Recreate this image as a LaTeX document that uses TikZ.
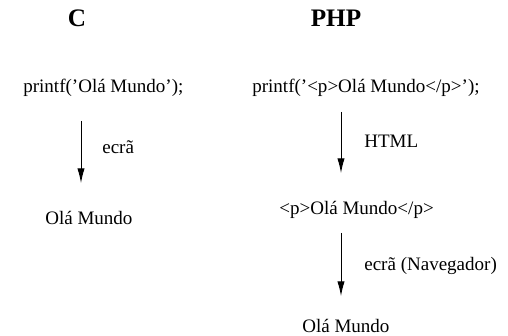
\documentclass[tikz,border=0pt]{standalone}
\usepackage{fontspec}
\setmainfont{Liberation Serif}
\usetikzlibrary{arrows.meta}

\begin{document}
\begin{tikzpicture}[x=0.615pt, y=-0.615pt,
	txt/.style={inner sep=0, anchor=base west, font=\fontsize{11.7}{14}\selectfont},
	head/.style={inner sep=0, anchor=base, font=\fontsize{15.5}{18}\selectfont\bfseries},
	flow/.style={line width=0.6pt, -{Latex[length=9pt, width=4.5pt]}}]
	\useasboundingbox (0,0) rectangle (508,336);

	% C
	\node[head] (hC) at (77,27) {C};
	\node[txt] (srcC) at (23,92) {printf('Olá Mundo');};
	\coordinate (c1) at (81,121);
	\coordinate (c2) at (81,183);
	\draw[flow] (c1) -- (c2);
	\node[txt] (ecraC) at (102,153) {ecrã};
	\node[txt] (outC) at (45,225) {Olá Mundo};

	% PHP
	\node[head] (hPHP) at (336,27) {PHP};
	\node[txt] (srcPHP) at (252,92) {printf('<p>Olá Mundo</p>');};
	\coordinate (p1) at (341,112);
	\coordinate (p2) at (341,173);
	\draw[flow] (p1) -- (p2);
	\node[txt] (html) at (364,148) {HTML};
	\node[txt] (tagPHP) at (279,215) {<p>Olá Mundo</p>};
	\coordinate (p3) at (341,233);
	\coordinate (p4) at (341,296);
	\draw[flow] (p3) -- (p4);
	\node[txt] (ecraPHP) at (364,271) {ecrã (Navegador)};
	\node[txt] (outPHP) at (302,332) {Olá Mundo};

\end{tikzpicture}
\end{document}
